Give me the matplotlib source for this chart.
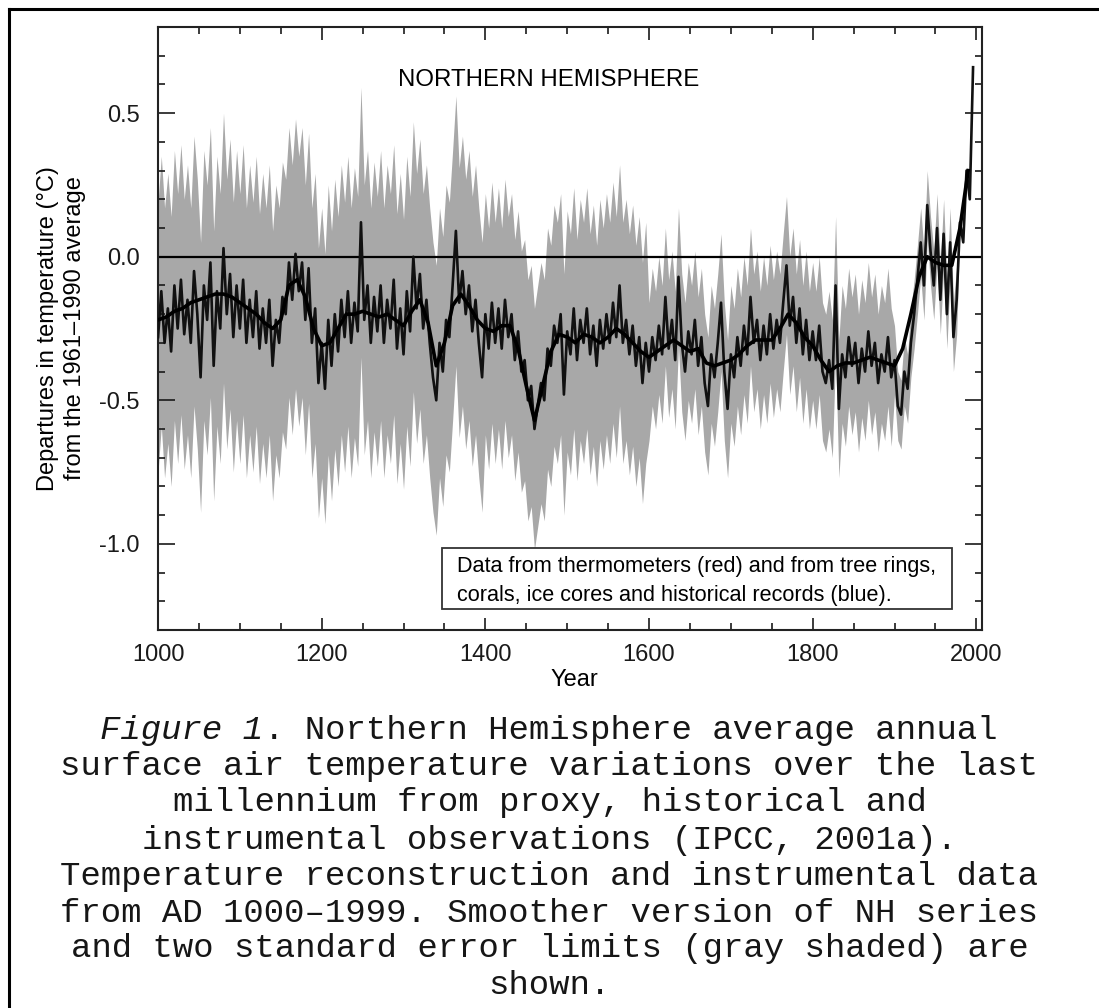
import numpy as np
import matplotlib
matplotlib.use("Agg")
import matplotlib.pyplot as plt
from matplotlib.lines import Line2D
from matplotlib.patches import Rectangle
from matplotlib.ticker import MultipleLocator

plt.rcParams['font.family'] = ['Liberation Sans', 'DejaVu Sans']

# annual reconstruction, every 4th year 1000..1996
years = np.arange(1000, 1997, 4)
annual = [
    -0.28, -0.12, -0.30, -0.18, -0.33, -0.10, -0.25, -0.08, -0.27, -0.15, -0.30, -0.05, -0.20,
    -0.42, -0.10, -0.22, -0.02, -0.38, -0.12, -0.25, 0.03, -0.20, -0.06, -0.28, -0.10,
    -0.25, -0.08, -0.30, -0.15, -0.28, -0.12, -0.32, -0.18, -0.30, -0.15, -0.38, -0.22, -0.30,
    -0.14, -0.20, -0.02, -0.15, 0.01, -0.12, -0.02, -0.22, -0.04, -0.30, -0.18, -0.44,
    -0.30, -0.46, -0.22, -0.38, -0.20, -0.33, -0.15, -0.28, -0.12, -0.30, -0.16, -0.26, 0.12,
    -0.22, -0.10, -0.30, -0.14, -0.26, -0.10, -0.30, -0.15, -0.25, -0.08, -0.32, -0.18,
    -0.34, -0.12, -0.26, 0.00, -0.18, -0.06, -0.25, -0.15, -0.30, -0.42, -0.50, -0.30, -0.40,
    -0.22, -0.28, -0.10, 0.09, -0.16, -0.05, -0.20, -0.10, -0.26, -0.15, -0.30, -0.42,
    -0.20, -0.32, -0.16, -0.30, -0.18, -0.32, -0.15, -0.28, -0.20, -0.36, -0.26, -0.40, -0.36,
    -0.50, -0.45, -0.60, -0.52, -0.44, -0.50, -0.32, -0.38, -0.24, -0.30, -0.20, -0.48,
    -0.26, -0.34, -0.18, -0.36, -0.22, -0.30, -0.18, -0.34, -0.24, -0.38, -0.22, -0.32, -0.20,
    -0.30, -0.16, -0.28, -0.10, -0.30, -0.22, -0.34, -0.24, -0.38, -0.28, -0.44, -0.30,
    -0.40, -0.28, -0.36, -0.24, -0.34, -0.14, -0.32, -0.22, -0.36, -0.07, -0.30, -0.40, -0.26,
    -0.34, -0.22, -0.38, -0.28, -0.44, -0.52, -0.34, -0.42, -0.30, -0.16, -0.40, -0.53,
    -0.34, -0.42, -0.28, -0.38, -0.24, -0.34, -0.14, -0.30, -0.22, -0.36, -0.24, -0.34, -0.20,
    -0.32, -0.22, -0.30, -0.16, -0.03, -0.24, -0.14, -0.30, -0.18, -0.34, -0.22, -0.36,
    -0.26, -0.36, -0.24, -0.40, -0.44, -0.36, -0.46, -0.10, -0.53, -0.34, -0.42, -0.28, -0.38,
    -0.30, -0.44, -0.32, -0.40, -0.26, -0.38, -0.30, -0.44, -0.34, -0.40, -0.28, -0.42,
    -0.36, -0.52, -0.55, -0.40, -0.46, -0.30, -0.20, -0.08, 0.05, -0.10, 0.18, 0.02, -0.10,
    0.10, -0.15, 0.08, -0.20, 0.05, -0.28, -0.15, 0.12, 0.05, 0.30, 0.20, 0.66,
]

# 40-year smoothed series, every 10 years
smooth_years = np.arange(1000, 1991, 10)
smooth = [
    -0.22, -0.21, -0.19, -0.18, -0.16, -0.15, -0.14, -0.13, -0.13, -0.14,
    -0.16, -0.18, -0.20, -0.23, -0.25, -0.22, -0.10, -0.08, -0.14, -0.25,
    -0.31, -0.30, -0.25, -0.20, -0.20, -0.19, -0.20, -0.21, -0.20, -0.22,
    -0.24, -0.19, -0.15, -0.23, -0.38, -0.30, -0.17, -0.13, -0.17, -0.22,
    -0.25, -0.26, -0.24, -0.24, -0.32, -0.45, -0.57, -0.45, -0.33, -0.27,
    -0.28, -0.30, -0.27, -0.28, -0.30, -0.28, -0.25, -0.27, -0.30, -0.33,
    -0.35, -0.33, -0.31, -0.29, -0.31, -0.33, -0.32, -0.37, -0.38, -0.37,
    -0.36, -0.34, -0.31, -0.29, -0.29, -0.29, -0.25, -0.20, -0.23, -0.28,
    -0.31, -0.36, -0.40, -0.38, -0.37, -0.37, -0.36, -0.35, -0.36, -0.37,
    -0.38, -0.32, -0.20, -0.07, 0.00, -0.02, -0.03, -0.03, 0.10, 0.30,
]

# two standard error half-width by calibration period
err_start = [1000, 1400, 1600, 1900, 1980]
err_size = [0.47, 0.42, 0.24, 0.12, 0.0]

annual = np.array(annual)
err = np.array(err_size)[np.searchsorted(err_start, years, side='right') - 1]

fig = plt.figure(figsize=(10.99, 10.08), dpi=100)
ax = fig.add_axes([0.1438, 0.375, 0.7498, 0.5982])

ax.fill_between(years, annual - err, annual + err, color='#a8a8a8', lw=0, zorder=1)
ax.axhline(0, color='black', lw=1.6, zorder=2)
ax.plot(years, annual, color='#111111', lw=1.9, zorder=3)
ax.plot(smooth_years, smooth, color='black', lw=2.6, zorder=4)

ax.set_xlim(1000, 2007)
ax.set_ylim(-1.3, 0.8)
ax.xaxis.set_major_locator(MultipleLocator(200))
ax.xaxis.set_minor_locator(MultipleLocator(50))
ax.yaxis.set_major_locator(MultipleLocator(0.5))
ax.yaxis.set_minor_locator(MultipleLocator(0.1))
ax.set_yticks([-1.0, -0.5, 0.0, 0.5])
ax.set_yticklabels(['-1.0', '-0.5', '0.0', '0.5'])
ax.tick_params(which='both', direction='in', top=True, right=True, width=1.2, colors='#1a1a1a')
ax.tick_params(which='major', axis='y', length=12, labelsize=17, pad=13)
ax.tick_params(which='major', axis='x', length=9, labelsize=17, pad=10)
ax.tick_params(which='minor', length=5)
for s in ax.spines.values():
    s.set_linewidth(1.5)
    s.set_color('#222')

ax.text(1477, 0.615, 'NORTHERN HEMISPHERE', fontsize=17.3, ha='center', va='center')

ax.add_patch(Rectangle((0.3447, 0.0348), 0.6189, 0.1012, transform=ax.transAxes,
                       facecolor='white', edgecolor='#333', lw=1.3, zorder=5))
ax.text(0.363, 0.1045, 'Data from thermometers (red) and from tree rings,',
        transform=ax.transAxes, fontsize=15.6, va='center', zorder=6)
ax.text(0.363, 0.058, 'corals, ice cores and historical records (blue).',
        transform=ax.transAxes, fontsize=15.6, va='center', zorder=6)

ax.text(-0.117, 0.5, 'Departures in temperature (\u00b0C)\nfrom the 1961\u20131990 average',
        transform=ax.transAxes, rotation=90, ha='center', va='center',
        multialignment='center', fontsize=17, linespacing=1.25)
fig.text(0.523, 1 - 680 / 1008, 'Year', fontsize=17, ha='center', va='center')

# caption below the chart
cap_lines = [
    None,
    'surface air temperature variations over the last',
    'millennium from proxy, historical and',
    'instrumental observations (IPCC, 2001a).',
    'Temperature reconstruction and instrumental data',
    'from AD 1000\u20131999. Smoother version of NH series',
    'and two standard error limits (gray shaded) are',
    'shown.',
]
cap_y = [730, 767, 803, 840, 876, 913, 949, 985]
cap_size = 24.5
mono = ['Liberation Mono', 'DejaVu Sans Mono']
adv = 0.6 * cap_size / 72 / 10.99  # character advance in figure fraction
for txt, yy in zip(cap_lines, cap_y):
    if txt is None:
        continue
    fig.text(0.5, 1 - yy / 1008, txt, family=mono, fontsize=cap_size, ha='center',
             va='center', color='#161616')
first_a = 'Figure 1'
first_b = '. Northern Hemisphere average annual'
x0 = 0.5 - adv * (len(first_a) + len(first_b)) / 2
fig.text(x0, 1 - cap_y[0] / 1008, first_a, family=mono, style='italic', fontsize=cap_size,
         ha='left', va='center', color='#161616')
fig.text(x0 + adv * len(first_a), 1 - cap_y[0] / 1008, first_b, family=mono,
         fontsize=cap_size, ha='left', va='center', color='#161616')

# page frame (top and left edges visible)
fig.add_artist(Line2D([9 / 1099, 1], [1 - 9 / 1008, 1 - 9 / 1008], color='black', lw=2.2))
fig.add_artist(Line2D([9 / 1099, 9 / 1099], [0, 1 - 9 / 1008], color='black', lw=2.2))

fig.savefig('out.png', dpi=100)
